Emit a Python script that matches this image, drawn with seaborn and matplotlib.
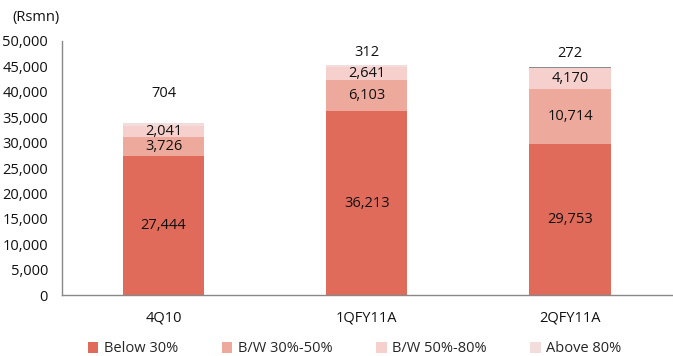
import matplotlib.pyplot as plt
import numpy as np
import pandas as pd
import seaborn as sns

sns.set_style("white")
plt.rcParams['font.family'] = ['Open Sans', 'DejaVu Sans']

# Data (Rs mn)
quarters = ["4Q10", "1QFY11A", "2QFY11A"]
below_30 = [27444, 36213, 29753]
bw_30_50 = [3726, 6103, 10714]
bw_50_80 = [2041, 2641, 4170]
above_80 = [704, 312, 272]

series = ["Below 30%", "B/W 30%-50%", "B/W 50%-80%", "Above 80%"]
colors = ["#E06B5A", "#EDA99C", "#F5D0CC", "#F2DDDC"]

df = pd.DataFrame({"quarter": quarters, "Below 30%": below_30,
                   "B/W 30%-50%": bw_30_50, "B/W 50%-80%": bw_50_80,
                   "Above 80%": above_80})
cum = df[series].cumsum(axis=1)

fig = plt.figure(figsize=(6.73, 3.56), dpi=100)
ax = fig.add_axes([0.092, 0.171, 0.906, 0.714])

# Stack by overdrawing cumulative totals from the top series down
for s, c in reversed(list(zip(series, colors))):
    sns.barplot(x=df["quarter"], y=cum[s], color=c, width=0.4,
                ax=ax, label=s, saturation=1, linewidth=0)

# thin top slice of the last bar shows up grey in the source
ax.containers[0].patches[2].set_facecolor("#8C8C8C")

fs = 10.5
# Segment labels
for i in range(len(quarters)):
    bottom = 0
    for s in series[:3]:
        v = df[s][i]
        ax.text(i, bottom + v / 2, f"{v:,}", ha="center", va="center",
                fontsize=fs, color="#111111")
        bottom += v
    top_offset = [5800, 2500, 2600][i]
    ax.text(i, cum["Above 80%"][i] + top_offset, f"{df['Above 80%'][i]:,}",
            ha="center", va="center", fontsize=fs, color="#111111")

ax.set_xlim(-0.5, 2.5)
ax.set_ylim(0, 50000)
ax.set_yticks(np.arange(0, 50001, 5000))
ax.yaxis.set_major_formatter(plt.FuncFormatter(lambda v, p: f"{int(v):,}"))
ax.set_xlabel("")
ax.set_ylabel("")
ax.set_xticks([0.5, 1.5], minor=True)
ax.tick_params(axis="x", which="major", length=0, pad=11, labelsize=fs)
ax.tick_params(axis="x", which="minor", length=4, color="#888888", direction="out")
ax.tick_params(axis="y", length=4, color="#888888", direction="out", labelsize=fs, pad=6)
ax.tick_params(labelcolor="#111111", which="major", axis="both")
for side in ["top", "right"]:
    ax.spines[side].set_visible(False)
for side in ["left", "bottom"]:
    ax.spines[side].set_color("#888888")
    ax.spines[side].set_linewidth(1)

fig.text(0.018, 0.952, "(Rsmn)", fontsize=fs, color="#111111", ha="left", va="center")

handles, labels = ax.get_legend_handles_labels()
order = [labels.index(s) for s in series]
ax.legend([handles[k] for k in order], series, loc="upper center",
          bbox_to_anchor=(0.48, -0.13), ncol=4, frameon=False, fontsize=fs,
          handlelength=0.75, handleheight=0.75, handletextpad=0.35, columnspacing=3.0)

fig.savefig("out.png", dpi=100)
